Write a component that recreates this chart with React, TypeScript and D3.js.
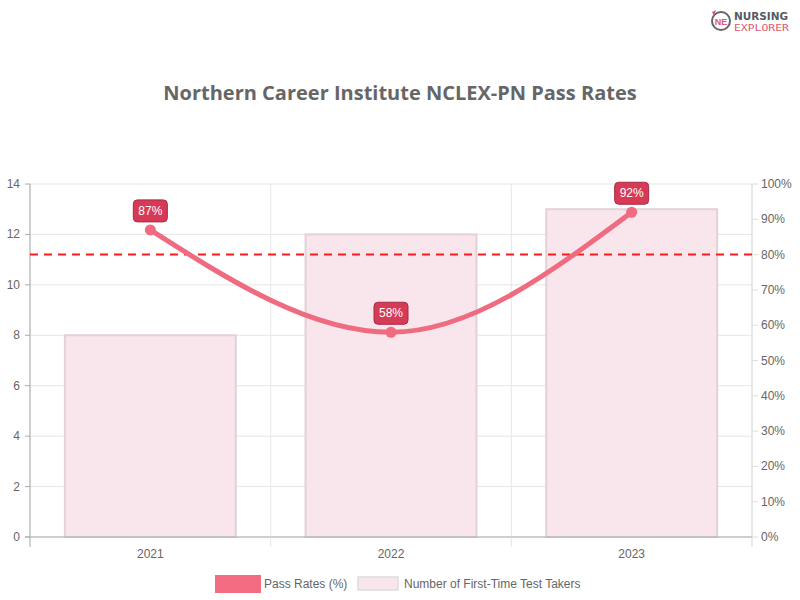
import React from "react";
import * as d3 from "d3";

const categories = ["2021", "2022", "2023"];
const passRates = [87, 58, 92];
const testTakers = [8, 12, 13];
const leftTicks = [0, 2, 4, 6, 8, 10, 12, 14];
const rightTicks = [0, 10, 20, 30, 40, 50, 60, 70, 80, 90, 100];
const benchmark = 80;

export default function App() {
  const W = 800, H = 600;
  const left = 30, right = 752, top = 184, bottom = 537;
  const x = d3.scaleBand<string>().domain(categories).range([left, right]).paddingInner(0).paddingOuter(0);
  const yL = d3.scaleLinear().domain([0, 14]).range([bottom, top]);
  const yR = d3.scaleLinear().domain([0, 100]).range([bottom, top]);
  const bw = x.bandwidth();
  const barW = bw * 0.71;
  const cx = (c: string) => (x(c) as number) + bw / 2;
  const pts: [number, number][] = categories.map((c, i) => [cx(c), yR(passRates[i])]);
  const line = d3.line().curve(d3.curveMonotoneX)(pts) as string;
  const font = "'Liberation Sans', Arial, sans-serif";
  const boundaries = [left, ...categories.map((c) => (x(c) as number) + bw)];

  return (
    <svg width={W} height={H} style={{ position: "absolute", left: 0, top: 0, background: "#fff" }} fontFamily={font}>
      {/* logo */}
      <g>
        <circle cx={721} cy={21} r={9} fill="none" stroke="#666" strokeWidth={2} />
        <path d="M712,12 L716,10 L714,16 Z" fill="#e0596f" />
        <text x={721} y={24.5} textAnchor="middle" fontSize={9} fontWeight="bold" fill="#e0596f">NE</text>
        <text x={734} y={20} fontSize={11} fontWeight="bold" fill="#555a66" fontFamily="'DejaVu Sans', sans-serif" textLength={54} lengthAdjust="spacingAndGlyphs">NURSING</text>
        <text x={734} y={31} fontSize={9.5} fill="#e0596f" fontFamily="'DejaVu Sans Mono', monospace" textLength={55} lengthAdjust="spacingAndGlyphs">EXPLORER</text>
      </g>
      <text x={400} y={100} textAnchor="middle" fontSize={20} fontWeight="bold" fill="#666" fontFamily="'Open Sans', sans-serif">
        Northern Career Institute NCLEX-PN Pass Rates
      </text>
      {/* grid */}
      {leftTicks.map((t) => (
        <line key={"g" + t} x1={left} x2={right} y1={yL(t)} y2={yL(t)} stroke="#e6e6e6" strokeWidth={1} />
      ))}
      {boundaries.map((b, i) => (
        <line key={"v" + i} x1={b} x2={b} y1={top} y2={bottom} stroke="#e6e6e6" strokeWidth={1} />
      ))}
      {/* bars */}
      {categories.map((c, i) => (
        <rect key={c} x={cx(c) - barW / 2} y={yL(testTakers[i])} width={barW} height={bottom - yL(testTakers[i])}
          fill="#f8e6ec" stroke="#e2d2d8" strokeWidth={2} />
      ))}
      {/* axes */}
      <line x1={left} x2={left} y1={top} y2={bottom + 10} stroke="#aaa" />
      <line x1={right} x2={right} y1={top} y2={bottom + 10} stroke="#ddd" />
      <line x1={left - 5} x2={right} y1={bottom} y2={bottom} stroke="#aaa" />
      {boundaries.slice(1).map((b, i) => (
        <line key={"bt" + i} x1={b} x2={b} y1={bottom} y2={bottom + 10} stroke="#e6e6e6" />
      ))}
      {leftTicks.map((t) => (
        <g key={"l" + t}>
          <line x1={left - 5} x2={left} y1={yL(t)} y2={yL(t)} stroke="#aaa" />
          <text x={left - 10} y={yL(t) + 4} textAnchor="end" fontSize={12} fill="#666">{t}</text>
        </g>
      ))}
      {rightTicks.map((t) => (
        <g key={"r" + t}>
          <line x1={right} x2={right + 6} y1={yR(t)} y2={yR(t)} stroke="#ddd" />
          <text x={right + 9} y={yR(t) + 4} textAnchor="start" fontSize={12} fill="#666">{t}%</text>
        </g>
      ))}
      {categories.map((c) => (
        <text key={"x" + c} x={cx(c)} y={558} textAnchor="middle" fontSize={12} fill="#666">{c}</text>
      ))}
      {/* benchmark */}
      <line x1={left} x2={right} y1={yR(benchmark)} y2={yR(benchmark)} stroke="#ff1a1a" strokeWidth={2} strokeDasharray="8,6" />
      {/* line */}
      <path d={line} fill="none" stroke="#ef6b7f" strokeWidth={5} strokeLinecap="round" />
      {pts.map((p, i) => (
        <circle key={"p" + i} cx={p[0]} cy={p[1]} r={5.5} fill="#ef6b7f" />
      ))}
      {pts.map((p, i) => (
        <g key={"lb" + i}>
          <rect x={p[0] - 17} y={p[1] - 30} width={34} height={22} rx={4} fill="#d63a57" stroke="#a82a42" strokeWidth={1} />
          <text x={p[0]} y={p[1] - 15} textAnchor="middle" fontSize={12} fill="#fff">{passRates[i]}%</text>
        </g>
      ))}
      {/* legend */}
      <rect x={215} y={575} width={46} height={18} fill="#f26b80" />
      <text x={264} y={588} fontSize={12} fill="#666">Pass Rates (%)</text>
      <rect x={358} y={577} width={40} height={13} fill="#f8e6ec" stroke="#ddd" strokeWidth={1.5} />
      <text x={404} y={588} fontSize={12} fill="#666">Number of First-Time Test Takers</text>
    </svg>
  );
}
